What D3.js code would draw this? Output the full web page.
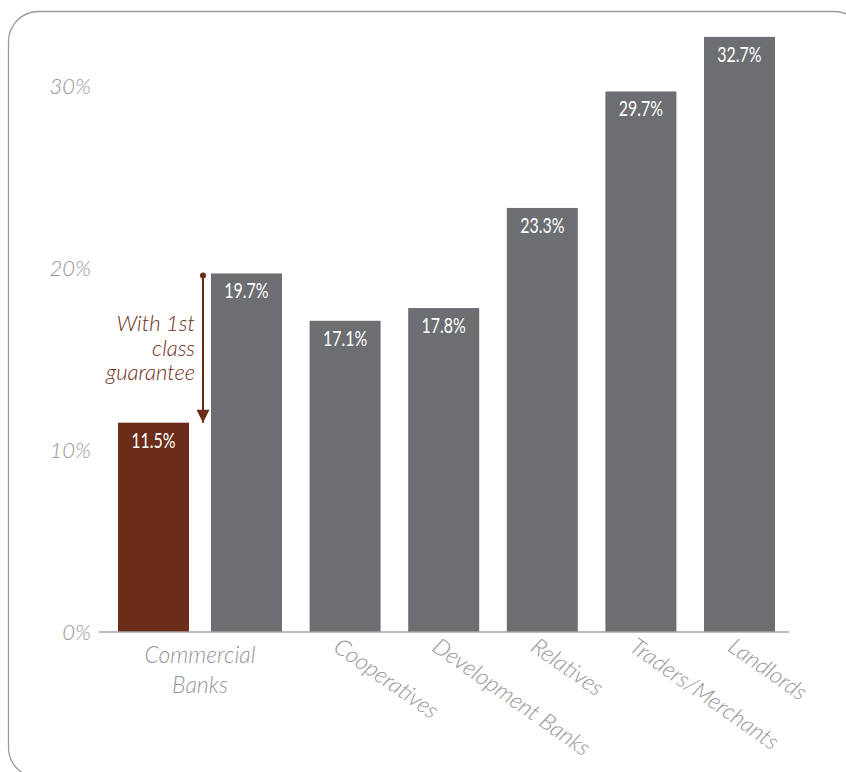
<!DOCTYPE html>
<html>
<head>
<meta charset="utf-8">
<script src="https://cdn.jsdelivr.net/npm/d3@7"></script>
<style>
  html, body { margin: 0; padding: 0; background: #fff; }
  svg { display: block; }
  .tick-label { font-family: Lato, "Open Sans", sans-serif; font-style: italic; font-weight: 300; font-size: 22px; fill: #959595; }
  .cat-label { font-family: Lato, "Open Sans", sans-serif; font-style: italic; font-weight: 300; font-size: 23px; fill: #959595; }
  .value-label { font-family: Lato, sans-serif; font-size: 21px; fill: #fff; }
  .note { font-family: Lato, sans-serif; font-style: italic; font-weight: 300; font-size: 22px; fill: #6b2c1a; }
</style>
</head>
<body>
<div id="chart"></div>
<script>
// Lending rates by source (%)
const categories = ['Commercial Banks', 'Cooperatives', 'Development Banks', 'Relatives', 'Traders/Merchants', 'Landlords'];
const rates = [19.7, 17.1, 17.8, 23.3, 29.7, 32.7];
const guaranteedRate = 11.5; // commercial banks, with 1st class guarantee
const yTicks = [0, 10, 20, 30];
const noteLines = ['With 1st', 'class', 'guarantee'];

const width = 846;
const height = 772;
const grey = '#6d6e71';
const brown = '#6b2c1a';
const pairGap = 22;

const svg = d3.select('#chart')
  .append('svg')
  .attr('width', width)
  .attr('height', height);

// rounded frame (runs off the right/bottom edge)
svg.append('rect')
  .attr('x', 8.5).attr('y', 11.5)
  .attr('width', 856).attr('height', 766)
  .attr('rx', 30).attr('ry', 30)
  .attr('fill', 'none')
  .attr('stroke', '#9b9b9b')
  .attr('stroke-width', 1.3);

const x = d3.scaleBand()
  .domain(categories)
  .range([197, 789])
  .paddingInner(0.28)
  .paddingOuter(0.142);

const y = d3.scaleLinear()
  .domain([0, 30])
  .range([632, 86]);

// y tick labels
svg.append('g')
  .selectAll('text')
  .data(yTicks)
  .join('text')
    .attr('class', 'tick-label')
    .attr('x', 91)
    .attr('y', d => y(d) + 8)
    .attr('text-anchor', 'end')
    .text(d => d + '%');

// bars
const data = categories.map((c, i) => ({ cat: c, value: rates[i] }));

svg.append('g')
  .selectAll('rect')
  .data(data)
  .join('rect')
    .attr('x', d => x(d.cat))
    .attr('y', d => y(d.value))
    .attr('width', x.bandwidth())
    .attr('height', d => y(0) - y(d.value))
    .attr('fill', grey);

const gx = x(categories[0]) - pairGap - x.bandwidth();
svg.append('rect')
  .attr('x', gx)
  .attr('y', y(guaranteedRate))
  .attr('width', x.bandwidth())
  .attr('height', y(0) - y(guaranteedRate))
  .attr('fill', brown);

// value labels (squeezed to look condensed)
const fmt = v => v.toFixed(1) + '%';
const labels = data.map(d => ({ cx: x(d.cat) + x.bandwidth() / 2, value: d.value }));
labels.unshift({ cx: gx + x.bandwidth() / 2, value: guaranteedRate });

svg.append('g')
  .selectAll('text')
  .data(labels)
  .join('text')
    .attr('class', 'value-label')
    .attr('transform', d => `translate(${d.cx}, ${y(d.value) + 25}) scale(0.76, 1)`)
    .attr('text-anchor', 'middle')
    .text(d => fmt(d.value));

// axis baseline
svg.append('line')
  .attr('x1', 99).attr('x2', 789)
  .attr('y1', y(0)).attr('y2', y(0))
  .attr('stroke', '#a5a5a5')
  .attr('stroke-width', 1.5);

// category labels
const first = categories[0].split(' ');
const firstCx = (gx + x(categories[0]) + x.bandwidth()) / 2;
svg.append('text')
  .attr('class', 'cat-label')
  .attr('text-anchor', 'middle')
  .selectAll('tspan')
  .data(first)
  .join('tspan')
    .attr('x', firstCx)
    .attr('y', (d, i) => 663 + i * 30)
    .text(d => d);

svg.append('g')
  .selectAll('text')
  .data(categories.slice(1))
  .join('text')
    .attr('class', 'cat-label')
    .attr('transform', d => `translate(${x(d) + x.bandwidth() / 2 - 13}, 650) rotate(35)`)
    .text(d => d);

// guarantee arrow
const ax = x(categories[0]) - 8;
svg.append('defs').append('marker')
  .attr('id', 'head')
  .attr('viewBox', '0 0 10 10')
  .attr('refX', 10).attr('refY', 5)
  .attr('markerUnits', 'userSpaceOnUse')
  .attr('markerWidth', 14).attr('markerHeight', 13)
  .attr('orient', 'auto')
  .append('path')
    .attr('d', 'M0,0 L10,5 L0,10 Z')
    .attr('fill', brown);

svg.append('line')
  .attr('x1', ax).attr('x2', ax)
  .attr('y1', y(rates[0]) + 2)
  .attr('y2', y(guaranteedRate))
  .attr('stroke', brown)
  .attr('stroke-width', 2)
  .attr('marker-end', 'url(#head)');

svg.append('circle')
  .attr('cx', ax)
  .attr('cy', y(rates[0]) + 2)
  .attr('r', 3)
  .attr('fill', brown);

svg.append('text')
  .attr('class', 'note')
  .attr('text-anchor', 'end')
  .selectAll('tspan')
  .data(noteLines)
  .join('tspan')
    .attr('x', ax - 8)
    .attr('y', (d, i) => 331 + i * 24.5)
    .text(d => d);
</script>
</body>
</html>
